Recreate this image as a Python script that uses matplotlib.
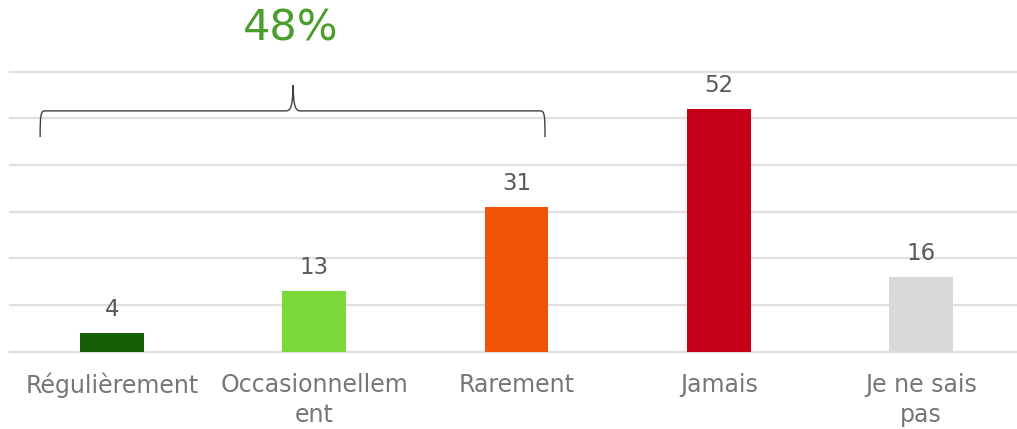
import numpy as np
import matplotlib.pyplot as plt
from matplotlib.path import Path
from matplotlib.patches import PathPatch

categories = ['Régulièrement', 'Occasionnellem\nent', 'Rarement', 'Jamais', 'Je ne sais\npas']
values = [4, 13, 31, 52, 16]
colors = ['#155f07', '#7ad83a', '#f05206', '#c50018', '#d9d9d9']
group_label = '48%'

fig = plt.figure(figsize=(10.17, 4.29), dpi=100)
ax = fig.add_axes([10 / 1017, 77.3 / 429, 1007 / 1017, 280 / 429])

x = np.arange(len(categories))
bars = ax.bar(x, values, width=0.316, color=colors, zorder=3)

ax.set_xlim(-0.505, 4.475)
ax.set_ylim(0, 60)
ax.set_yticks(np.arange(0, 61, 10))
ax.yaxis.grid(True, color='#e0e0e0', linewidth=1.6, zorder=0)
for gl in ax.get_ygridlines():
    gl.set_clip_on(False)
ax.tick_params(axis='y', left=False, labelleft=False)
ax.tick_params(axis='x', length=0, pad=15, labelsize=17, labelcolor='#767676')
ax.set_xticks(x)
ax.set_xticklabels(categories, linespacing=1.32)
for s in ['top', 'right', 'left']:
    ax.spines[s].set_visible(False)
ax.spines['bottom'].set_color('#e0e0e0')
ax.spines['bottom'].set_linewidth(1.6)

for b, v in zip(bars, values):
    ax.annotate(str(v), (b.get_x() + b.get_width() / 2, v), xytext=(0, 9),
                textcoords='offset points', ha='center', va='bottom',
                fontsize=16.5, color='#595959')

# curly brace over the first three bars
x0, x1, xm = -0.356, 2.141, 0.895
y_end, y_bar, y_tip = 46.0, 51.6, 57.1
dx = 0.025
verts = [
    (x0, y_end),
    (x0, y_bar - 0.5), (x0 + 0.004, y_bar), (x0 + dx, y_bar),
    (xm - 0.035, y_bar),
    (xm - 0.008, y_bar), (xm - 0.002, y_bar + 1.5), (xm, y_tip),
    (xm + 0.002, y_bar + 1.5), (xm + 0.008, y_bar), (xm + 0.035, y_bar),
    (x1 - dx, y_bar),
    (x1 - 0.004, y_bar), (x1, y_bar - 0.5), (x1, y_end),
]
codes = [Path.MOVETO,
         Path.CURVE4, Path.CURVE4, Path.CURVE4,
         Path.LINETO,
         Path.CURVE4, Path.CURVE4, Path.CURVE4,
         Path.CURVE4, Path.CURVE4, Path.CURVE4,
         Path.LINETO,
         Path.CURVE4, Path.CURVE4, Path.CURVE4]
ax.add_patch(PathPatch(Path(verts, codes), facecolor='none', edgecolor='#404040',
                       linewidth=1.0, zorder=4, clip_on=False))

ax.text(xm - 0.01, 69.2, group_label, ha='center', va='center', fontsize=31,
        color='#4b9e2b', clip_on=False)

fig.savefig('out.png', dpi=100)
